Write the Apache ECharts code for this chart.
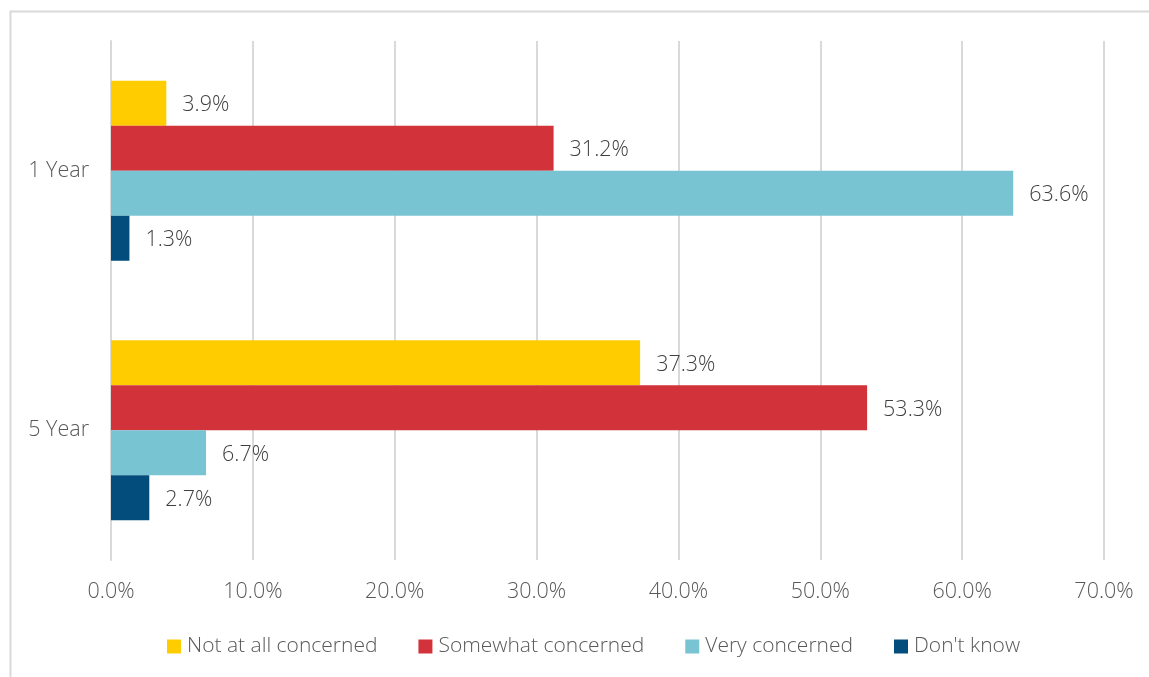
<!DOCTYPE html>
<html>
<head>
<meta charset="utf-8">
<script src="https://cdn.jsdelivr.net/npm/echarts@6/dist/echarts.min.js"></script>
<style>
  html, body { margin: 0; padding: 0; background: #fff; }
  #chart { width: 1149px; height: 677px; }
</style>
</head>
<body>
<div id="chart"></div>
<script>
// Level of concern by time horizon (share of respondents, %)
const categories = ['1 Year', '5 Year'];
const seriesNames = ['Not at all concerned', 'Somewhat concerned', 'Very concerned', "Don't know"];
const notAtAll = [3.9, 37.3];
const somewhat = [31.2, 53.3];
const very = [63.6, 6.7];
const dontKnow = [1.3, 2.7];
const xTicks = [0, 10, 20, 30, 40, 50, 60, 70];

const palette = ['#FFCC00', '#D23239', '#78C4D3', '#024D7C'];
const font = '"Open Sans", "Noto Sans", sans-serif';
const fontSize = 21.5;
const legendFontSize = 21;
const fontWeight = 300;

const seriesData = [notAtAll, somewhat, very, dontKnow];

const chart = echarts.init(document.getElementById('chart'), null, { renderer: 'canvas' });

chart.setOption({
  backgroundColor: '#ffffff',
  animation: false,
  textStyle: { fontFamily: font },
  graphic: [{
    type: 'rect',
    shape: { x: 10.5, y: 11.5, width: 1400, height: 1000 },
    style: { fill: 'none', stroke: '#d9d9d9', lineWidth: 2 },
    silent: true
  }],
  grid: { left: 111, right: 45, top: 41, bottom: 117, containLabel: false },
  legend: {
    top: 631,
    left: 162,
    itemWidth: 14,
    itemHeight: 14,
    itemGap: 41,
    icon: 'rect',
    textStyle: { fontFamily: font, fontSize: legendFontSize, fontWeight: fontWeight, color: '#595959', padding: [0, 0, 0, 1] },
    data: seriesNames
  },
  xAxis: {
    type: 'value',
    min: xTicks[0],
    max: xTicks[xTicks.length - 1],
    interval: 10,
    axisLine: { show: false },
    axisTick: { show: false },
    splitLine: { lineStyle: { color: '#d9d9d9', width: 2 } },
    axisLabel: {
      margin: 21,
      fontFamily: font,
      fontSize: fontSize,
      fontWeight: fontWeight,
      color: '#595959',
      formatter: v => v.toFixed(1) + '%'
    }
  },
  yAxis: {
    type: 'category',
    inverse: true,
    data: categories,
    axisLine: { show: true, lineStyle: { color: '#d9d9d9', width: 2 } },
    axisTick: { show: false },
    axisLabel: { margin: 22, fontFamily: font, fontSize: fontSize, fontWeight: fontWeight, color: '#595959' }
  },
  series: seriesNames.map((name, i) => ({
    name: name,
    type: 'bar',
    data: seriesData[i],
    barWidth: 45,
    barGap: '0%',
    itemStyle: { color: palette[i] },
    label: {
      show: true,
      position: 'right',
      distance: 16,
      offset: [0, 2],
      fontFamily: font,
      fontSize: fontSize,
      fontWeight: fontWeight,
      color: '#404040',
      formatter: p => p.value.toFixed(1) + '%'
    }
  }))
});
</script>
</body>
</html>
